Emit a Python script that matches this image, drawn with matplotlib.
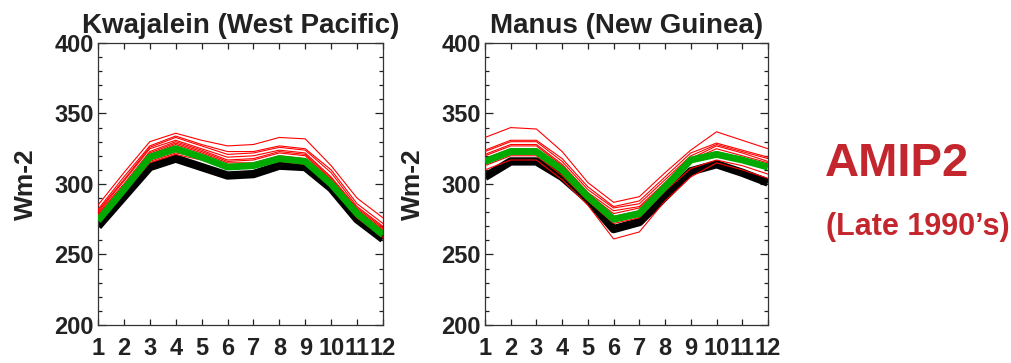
"""
Seasonal cycle of surface flux at two tropical West Pacific sites,
AMIP2 models (red), model mean (green) and observations (black).
"""

import matplotlib
matplotlib.use('Agg')
import matplotlib.pyplot as plt
from matplotlib.ticker import MultipleLocator

plt.rcParams['font.family'] = ['Liberation Sans', 'DejaVu Sans']

months = list(range(1, 13))
month_labels = [str(m) for m in months]

# Kwajalein (West Pacific)
kwaj_obs = [270, 291, 312, 318, 312, 306, 307, 313, 312, 297, 275, 261]
kwaj_mean = [274, 296, 319, 325, 319, 312, 313, 318, 316, 300, 279, 264]
kwaj_models = [
    [285, 308, 330, 336, 331, 327, 328, 333, 332, 313, 290, 276],
    [282, 305, 327, 334, 328, 323, 323, 327, 325, 310, 286, 272],
    [281, 303, 326, 333, 327, 321, 322, 326, 324, 308, 284, 270],
    [280, 302, 325, 331, 325, 319, 320, 324, 322, 305, 283, 269],
    [279, 300, 323, 330, 324, 317, 318, 323, 321, 304, 282, 268],
    [278, 299, 322, 329, 323, 316, 317, 322, 320, 303, 281, 267],
    [277, 298, 321, 328, 322, 315, 315, 320, 318, 301, 280, 266],
    [276, 296, 316, 322, 319, 312, 312, 316, 314, 300, 277, 264],
    [275, 294, 315, 321, 317, 311, 312, 317, 315, 299, 276, 262],
]

# Manus (New Guinea)
manus_obs = [305, 316, 316, 305, 289, 268, 273, 291, 309, 314, 308, 301]
manus_mean = [316, 323, 323, 310, 291, 275, 279, 298, 317, 321, 317, 312]
manus_models = [
    [333, 340, 339, 323, 301, 287, 291, 308, 324, 337, 331, 325],
    [324, 331, 331, 318, 298, 284, 288, 305, 322, 329, 324, 319],
    [323, 330, 330, 316, 296, 283, 286, 303, 320, 328, 323, 318],
    [321, 328, 328, 314, 294, 281, 284, 301, 318, 327, 322, 316],
    [320, 327, 327, 313, 293, 279, 283, 300, 317, 325, 320, 315],
    [318, 325, 325, 311, 292, 277, 281, 299, 316, 323, 318, 314],
    [313, 320, 320, 306, 288, 272, 276, 295, 311, 317, 313, 307],
    [310, 317, 317, 303, 285, 261, 266, 288, 305, 315, 310, 304],
]

sites = [
    ('Kwajalein (West Pacific)', kwaj_obs, kwaj_mean, kwaj_models),
    ('Manus (New Guinea)', manus_obs, manus_mean, manus_models),
]

fig = plt.figure(figsize=(10.11, 3.63), dpi=100)
positions = [
    [0.0969, 0.1047, 0.2819, 0.7769],
    [0.4797, 0.1047, 0.2799, 0.7769],
]

for pos, (title, obs, mean, models) in zip(positions, sites):
    ax = fig.add_axes(pos)
    ax.plot(months, obs, color='black', linewidth=6, solid_capstyle='butt', zorder=2)
    for run in models:
        ax.plot(months, run, color='red', linewidth=0.8, zorder=3)
    ax.plot(months, mean, color='#00aa00', linewidth=5, solid_capstyle='butt', zorder=4)

    ax.set_xlim(1, 12)
    ax.set_ylim(200, 400)
    ax.set_xticks(months)
    ax.set_xticklabels(month_labels)
    ax.yaxis.set_major_locator(MultipleLocator(50))
    ax.yaxis.set_minor_locator(MultipleLocator(10))
    ax.tick_params(which='both', direction='in', top=True, right=True,
                   labelsize=17, width=0.9, colors='#222222')
    ax.tick_params(axis='x', which='major', length=4, pad=9)
    ax.tick_params(axis='y', which='major', length=6, pad=3)
    ax.tick_params(axis='y', which='minor', length=3)
    for lab in ax.get_xticklabels() + ax.get_yticklabels():
        lab.set_fontweight('bold')
        lab.set_color('#222222')
    for spine in ax.spines.values():
        spine.set_linewidth(0.9)
        spine.set_color('#333333')

    ax.set_title(title, fontsize=20, fontweight='bold', color='#222222', pad=7)
    ax.set_ylabel('Wm-2', fontsize=19, fontweight='bold', color='#222222', labelpad=12)

fig.text(0.887, 0.548, 'AMIP2', fontsize=34, fontweight='bold',
         color='#c4262e', ha='center', va='center')
fig.text(0.908, 0.375, '(Late 1990\u2019s)', fontsize=22, fontweight='bold',
         color='#c4262e', ha='center', va='center')

fig.savefig('out.png', dpi=100)
